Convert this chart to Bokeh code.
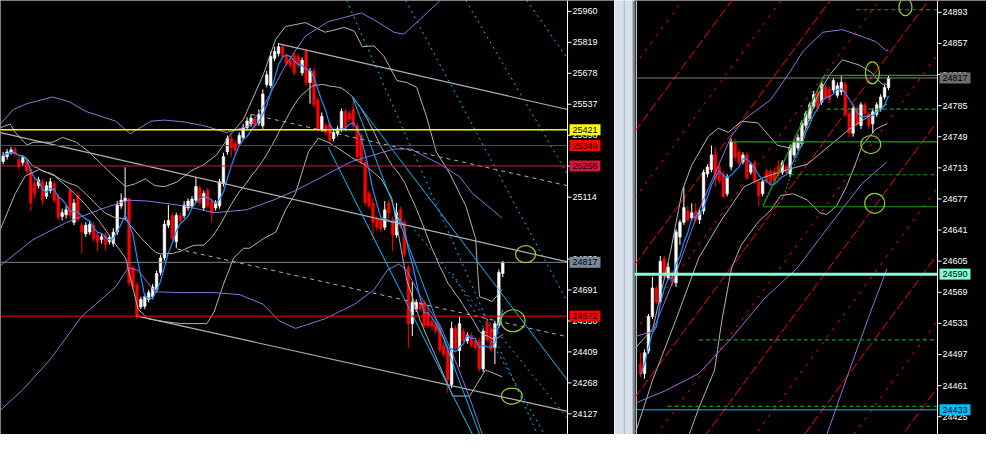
import pandas as pd
from bokeh.plotting import figure
from bokeh.models import Range1d
from bokeh.layouts import row
from bokeh.embed import file_html
from bokeh.resources import INLINE
from bokeh.core.properties import value

# ================= LEFT PANEL DATA =================
L_OPEN = [25276,25298,25316,25333,25285,25272,25276,25241,25175,25166,25184,25118,25144,25175,25118,25026,25034,25144,24999,25122,
          24986,24947,24955,24986,24942,24920,24942,24911,24903,24955,25074,25096,25105,24793,24714,24613,24617,24648,24661,24692,
          24771,24837,24986,25030,24911,25030,25030,25065,25074,25100,25153,25065,25144,25096,25065,25074,25175,25320,25381,25359,
          25359,25386,25430,25447,25469,25452,25439,25627,25623,25746,25768,25799,25755,25737,25759,25755,25680,25777,25636,25689,
          25557,25425,25439,25447,25381,25403,25425,25504,25496,25513,25439,25395,25272,25131,25087,25017,25008,24977,25087,25012,
          24942,25056,24999,24793,24538,24604,24635,24635,24591,24547,24538,24516,24437,24419,24261,24516,24415,24503,24459,24485,
          24459,24459,24332,24547,24516,24428,24529,24766]
L_HIGH = [25320,25333,25342,25342,25298,25302,25285,25254,25197,25206,25197,25184,25201,25188,25131,25061,25074,25157,25105,25140,
          24999,24999,25004,24999,24955,24947,24955,24942,24973,25096,25131,25250,25113,24806,24727,24661,24674,24692,24718,24780,
          24850,25008,25078,25043,25043,25043,25096,25109,25118,25206,25166,25144,25157,25109,25100,25197,25316,25395,25395,25373,
          25408,25447,25478,25491,25482,25513,25605,25689,25777,25799,25816,25812,25768,25755,25772,25768,25750,25790,25702,25702,
          25570,25500,25452,25461,25425,25439,25518,25518,25509,25570,25452,25408,25285,25144,25109,25030,25021,25096,25100,25026,
          25087,25070,25012,24806,24727,24648,24648,24648,24617,24560,24551,24534,24455,24437,24547,24529,24569,24516,24498,24498,
          24472,24472,24516,24560,24529,24551,24784,24824]
L_LOW = [25263,25285,25307,25298,25241,25258,25219,25052,25109,25153,25078,25105,25131,25087,25008,25008,25017,25017,24986,24999,
         24859,24933,24942,24911,24867,24903,24872,24898,24889,24942,25061,25008,24709,24692,24560,24604,24604,24635,24648,24679,
         24758,24824,24973,24911,24881,24990,25017,25052,25061,25087,25074,25052,25061,24999,25052,25061,25162,25307,25298,25307,
         25346,25373,25417,25434,25425,25439,25425,25614,25610,25733,25755,25742,25711,25702,25667,25702,25667,25623,25540,25522,
         25412,25412,25395,25359,25368,25390,25412,25412,25456,25425,25285,25263,25074,25061,24920,24964,24955,24964,24999,24867,
         24929,24973,24841,24428,24481,24591,24591,24516,24516,24507,24490,24406,24384,24222,24244,24415,24340,24446,24446,24428,
         24415,24318,24318,24450,24406,24353,24516,24749]
L_CLOSE = [25302,25320,25329,25311,25254,25294,25232,25087,25131,25193,25100,25166,25184,25100,25021,25043,25056,25030,25087,25012,
           24955,24986,24990,24925,24911,24933,24898,24929,24955,25078,25100,25109,24722,24705,24573,24648,24661,24679,24705,24766,
           24837,24990,25008,24925,25030,25008,25078,25096,25105,25162,25087,25131,25074,25043,25087,25184,25298,25381,25338,25329,
           25395,25430,25461,25474,25439,25491,25584,25671,25755,25777,25799,25755,25724,25715,25680,25715,25737,25636,25689,25535,
           25425,25482,25408,25373,25408,25425,25504,25425,25469,25439,25298,25276,25087,25074,24999,24977,24969,25056,25043,24942,
           25043,24986,24854,24538,24635,24635,24604,24529,24529,24525,24503,24419,24397,24283,24516,24428,24538,24459,24485,24441,
           24428,24332,24503,24463,24419,24538,24771,24817]

L_TICKS = [24127, 24268, 24409, 24550, 24691, 24832, 25114, 25255, 25396, 25537, 25678, 25819, 25960]

# bands (candle index, price)
L_GRAY_UP_I = [-0.7,1.8,3.1,6.1,7.6,12.6,15.1,18.6,21.8,24.3,27.6,31.1,33.6,36.1,38.6,41.1,44.3,47.6,51.1,54.3,57.6,61.1,63.6,66.1,
               69.3,71.8,76.8,81.8,86.8,89.3,91.3,94.3,96.8,100.1,102.6,105.1,107.6,110.1,113.6,117.6,120.1,120.6,121.1,124.3,126.8]
L_GRAY_UP_P = [25430,25447,25408,25351,25364,25364,25386,25364,25320,25276,25219,25162,25175,25197,25166,25162,25184,25232,25263,25307,
               25395,25469,25570,25671,25834,25891,25909,25865,25887,25869,25799,25803,25755,25645,25636,25614,25482,25320,25219,25074,
               24925,24780,24661,24639,24692]
L_GRAY_LO_I = [-0.7,3.1,5.6,9.3,13.1,16.8,20.6,24.3,28.1,31.1,34.3,36.8,41.1,45.1,51.8,53.6,56.1,58.6,61.1,62.6,66.1,69.3,71.8,74.3,
               77.6,80.1,82.6,85.1,88.6,91.8,96.1,98.8,100.6,102.6,106.1,111.1,114.3,118.6,122.6,126.8]
L_GRAY_LO_P = [24968,25131,25210,25241,25210,25153,25087,25008,24911,24837,24604,24560,24547,24538,24538,24591,24722,24837,24881,24881,
               24924,24955,25056,25131,25320,25382,25364,25337,25294,25263,25197,25109,24933,24736,24547,24340,24208,24208,24327,24296]
L_PURP_UP_I = [-0.7,2.6,6.1,12.6,16.8,21.1,28.6,32.3,37.6,41.1,46.1,51.1,56.8,62.6,66.1,71.8,76.8,82.6,91.1,95.1,99.3,101.8,105.1,
               111.1,116.8,126.8]
L_PURP_UP_P = [25447,25513,25540,25570,25548,25504,25460,25403,25460,25465,25456,25439,25408,25439,25526,25715,25847,25913,25953,25913,
               25865,25856,25909,26010,26141,26361]
L_PURP_MID_I = [-0.7,7.6,16.1,24.3,31.8,36.8,46.1,53.6,61.8,68.6,74.3,88.6,99.3,103.6,111.1,116.1,119.3,126.1,126.8]
L_PURP_MID_P = [24802,24920,24999,25056,25100,25096,25074,25043,25056,25100,25144,25276,25333,25333,25263,25206,25131,25030,25017]
L_PURP_LO_I = [-0.7,5.1,11.8,20.1,28.6,31.8,34.3,38.6,45.1,53.6,60.1,66.1,70.1,74.3,81.8,89.3,94.3,97.6,100.6,102.6,106.1,111.1,
               114.3,116.8,119.3,121.8,126.8]
L_PURP_LO_P = [24143,24239,24371,24573,24705,24793,24780,24683,24679,24679,24670,24626,24551,24516,24560,24626,24692,24780,24810,24780,
               24661,24529,24397,24283,24164,24033,23769]

# horizontal levels and axis boxes
L_LEVELS = [25421, 25349, 25256, 24817, 24572]
L_LEVEL_COLORS = ["#ffff00", "#ff0000", "#dc143c", "#778899", "#ff0000"]

# trend lines: (i0, p0, i1, p1)
L_GRAY_CHANNEL = [(70.1, 25812, 143.45, 25513), (-0.675, 25408, 143.45, 24819), (33.8, 24573, 143.45, 24138)]
L_GRAY_CHANNEL_MID = [(63.1, 25491, 143.45, 25166), (44.3, 24878, 143.45, 24478)]
L_CYAN_SOLID = [(88.8, 25570, 143.45, 24280), (88.8, 25570, 121.1, 24033), (82.6, 25342, 119.3, 24033)]
L_CYAN_DOTTED = [(87.3, 26010, 135.8, 24033), (102.3, 26010, 143.45, 24635), (117.6, 26010, 143.45, 25219),
                 (133.1, 26010, 143.45, 25746), (103.6, 24986, 143.45, 24107), (114.3, 24766, 137.6, 24033)]
L_CIRCLES_I = [132.8, 129.6, 129.3]
L_CIRCLES_P = [24854, 24551, 24208]

# ================= RIGHT PANEL DATA =================
R_OPEN = [24486,24475,24501,24541,24574,24558,24608,24586,24591,24580,24633,24650,24663,24655,24663,24653,24663,24706,24711,24728,
          24714,24706,24683,24714,24743,24731,24720,24728,24708,24719,24697,24683,24709,24709,24709,24715,24708,24715,24706,24728,
          24736,24741,24762,24770,24784,24801,24789,24806,24804,24803,24797,24801,24810,24776,24753,24782,24762,24786,24775,24764,
          24775,24782,24795,24806]
R_HIGH = [24499,24503,24544,24587,24577,24611,24611,24603,24594,24642,24653,24691,24669,24672,24672,24667,24711,24717,24739,24737,
          24717,24709,24706,24747,24747,24735,24731,24731,24720,24722,24700,24700,24712,24712,24713,24722,24722,24718,24740,24746,
          24752,24768,24779,24789,24802,24804,24813,24809,24807,24817,24812,24820,24813,24779,24785,24785,24789,24789,24778,24782,
          24789,24798,24809,24820]
R_LOW = [24471,24469,24498,24538,24555,24555,24583,24583,24575,24575,24624,24647,24650,24652,24650,24648,24659,24702,24708,24691,
         24695,24678,24680,24710,24721,24716,24717,24699,24705,24694,24669,24680,24695,24692,24694,24700,24705,24705,24702,24725,
         24733,24738,24758,24767,24781,24778,24786,24792,24788,24800,24794,24797,24772,24749,24749,24760,24758,24773,24758,24753,
         24772,24778,24792,24803]
R_CLOSE = [24474,24499,24541,24574,24558,24605,24586,24598,24581,24639,24650,24667,24653,24661,24653,24661,24708,24714,24728,24700,
           24698,24680,24702,24743,24725,24719,24728,24702,24717,24697,24681,24697,24698,24695,24698,24704,24719,24708,24737,24743,
           24748,24765,24776,24786,24798,24782,24810,24795,24792,24814,24808,24812,24775,24753,24782,24764,24786,24776,24762,24778,
           24786,24795,24806,24817]

R_TICKS = [24425, 24461, 24497, 24533, 24569, 24605, 24641, 24677, 24713, 24749, 24785, 24821, 24857, 24893]

R_PURP_UP_I = [-1.2,3.1,8.1,14.8,23.1,26.3,33.1,38.1,41.3,46.3,51.3,56.3,59.8,62.3,63.0]
R_PURP_UP_P = [24518,24524,24580,24664,24750,24769,24792,24825,24848,24870,24873,24865,24859,24849,24849]
R_PURP_MID_I = [-1.2,6.3,14.8,23.1,31.3,39.8,48.1,56.3,62.6]
R_PURP_MID_P = [24441,24455,24475,24516,24561,24597,24647,24695,24720]
R_PURP_LO_I = [45.1,47.3,53.1,58.1,62.6]
R_PURP_LO_P = [24371,24404,24479,24542,24596]
R_GRAY_UP_I = [-1.2,3.1,7.6,10.6,13.1,17.3,19.8,22.3,25.6,29.8,34.8,38.1,41.3,44.8,48.1,51.3,55.6,58.8,61.3,62.6]
R_GRAY_UP_P = [24505,24527,24616,24687,24717,24750,24759,24754,24767,24765,24739,24736,24750,24795,24821,24838,24832,24823,24810,24810]
R_GRAY_MID_I = [-1.2,3.1,8.8,14.8,20.6,26.3,31.3,37.3,42.3,48.1,53.1,58.1,62.6]
R_GRAY_MID_P = [24408,24468,24535,24609,24653,24691,24702,24711,24717,24739,24758,24773,24787]
R_GRAY_LO_I = [10.1,12.3,14.8,18.8,20.6,23.1,25.6,29.8,33.1,35.6,38.8,42.3,45.6,47.3,49.8,52.3,54.8,56.3,59.8,62.6]
R_GRAY_LO_P = [24371,24404,24435,24479,24535,24597,24624,24650,24664,24681,24683,24676,24661,24659,24669,24691,24720,24739,24758,24764]

# red dashed family: price at candle index 75, rising 6.16 per candle
R_RED_ANCHORS_DENSE = [24456, 24610, 24764, 24918, 25072, 25226, 25380]
R_RED_ANCHORS_SPARSE = [24533, 24687, 24841, 24995, 25149, 25303]
R_RED_SLOPE = 6.16
R_RED_REF_INDEX = 75

# green levels: (start index, price)
R_GREEN_SOLID = [(46.8, 24820), (23.1, 24743), (31.1, 24668)]
R_GREEN_DASHED = [(47.3, 24781), (38.1, 24705), (14.8, 24514), (6.8, 24437), (54.8, 24896)]
R_GREEN_DIAG = [(31.1, 24669, 46.8, 24821)]
R_GREEN_DIAG_DOTTED = [(36.0, 24676, 46.8, 24818)]
R_LEVELS = [24817, 24590, 24433]
R_LEVEL_COLORS = ["#808080", "#7fffd4", "#00bfff"]
R_BOX_COLORS = ["#6e6e6e", "#7fffd4", "#00bfff"]
R_CIRCLES_I = [67.3, 58.9, 58.5, 59.5]
R_CIRCLES_P = [24899, 24823, 24740, 24672]

# ================= LAYOUT =================
H = 434
W_L_FRAME, W_L_AXIS = 567, 47
W_SEP = 20
W_R_FRAME, W_R_AXIS = 303, 49
L_X = (-0.675, 143.45)
L_Y = (24032.8, 26009.6)
R_X = (-1.55, 75.45)
R_Y = (24404.4, 24906.7)

SILVER = "#b2b2b2"
PURPLE = "#9370db"
BLUE = "#1e90ff"
CYAN = "#00bfff"
GREEN = "#1a9a1a"
CIRCLE = "#9acd32"
FONT = "Liberation Sans"


def panel(frame_w, axis_w, xr, yr):
    upp = (xr[1] - xr[0]) / frame_w          # index units per pixel
    x_end = xr[1] + axis_w * upp
    p = figure(width=frame_w + axis_w, height=H, x_range=Range1d(xr[0], x_end), y_range=Range1d(*yr),
               output_backend="svg", toolbar_location=None, x_axis_location=None, y_axis_location=None,
               background_fill_color="black", border_fill_color="black",
               min_border_left=0, min_border_right=0, min_border_top=0, min_border_bottom=0,
               outline_line_color=None)
    p.grid.visible = False
    return p, upp


def price_axis(p, xa, upp, yr, ticks, levels, box_colors):
    n = len(ticks)
    p.segment(x0=[xa], y0=[yr[0]], x1=[xa], y1=[yr[1]], color="white", line_width=1)
    p.segment(x0=[xa] * n, y0=ticks, x1=[xa + 4 * upp] * n, y1=ticks, color="white", line_width=1)
    p.text(x=[xa + 5 * upp] * n, y=ticks, text=[str(t) for t in ticks], text_color="white",
           text_font=value(FONT), text_font_size=value("9px"), text_baseline="middle", text_align="left")
    m = len(levels)
    p.rect(x=[xa + 17.5 * upp] * m, y=levels, width=31, height=11, width_units="screen", height_units="screen",
           fill_color=box_colors, line_color=None)
    p.text(x=[xa + 5 * upp] * m, y=levels, text=[str(v) for v in levels], text_color="black",
           text_font=value(FONT), text_font_size=value("9px"), text_baseline="middle", text_align="left")


def candles(p, o, h, l, c):
    x = list(range(len(o)))
    col = ["white" if cc >= oo else "#ff0000" for oo, cc in zip(o, c)]
    top = [max(a, b) for a, b in zip(o, c)]
    bot = [min(a, b) for a, b in zip(o, c)]
    p.segment(x0=x, y0=l, x1=x, y1=h, color=col, line_width=1)
    p.vbar(x=x, width=0.65, top=top, bottom=bot, fill_color=col, line_color=col, line_width=0.6)


def hline(p, x0, x1, y, color, width=1.0, dash="solid"):
    p.line([x0, x1], [y, y], color=color, line_width=width, line_dash=dash)


# ---------------- left ----------------
pl, upl = panel(W_L_FRAME, W_L_AXIS, L_X, L_Y)
candles(pl, L_OPEN, L_HIGH, L_LOW, L_CLOSE)
lc = pd.Series(L_CLOSE)
lx = list(range(len(L_CLOSE)))
pl.line(L_GRAY_UP_I, L_GRAY_UP_P, color=SILVER, line_width=1)
pl.line(L_GRAY_LO_I, L_GRAY_LO_P, color=SILVER, line_width=1)
pl.line(lx, lc.rolling(20, min_periods=1).mean(), color=SILVER, line_width=1)
pl.line(L_PURP_UP_I, L_PURP_UP_P, color=PURPLE, line_width=1)
pl.line(L_PURP_MID_I, L_PURP_MID_P, color=PURPLE, line_width=1)
pl.line(L_PURP_LO_I, L_PURP_LO_P, color=PURPLE, line_width=1)
pl.line(lx, lc.rolling(5, min_periods=1).mean(), color=BLUE, line_width=1.2)
for (a, b, c, d) in L_GRAY_CHANNEL:
    pl.line([a, c], [b, d], color=SILVER, line_width=1.2)
for (a, b, c, d) in L_GRAY_CHANNEL_MID:
    pl.line([a, c], [b, d], color=SILVER, line_width=1, line_dash="4 4")
for (a, b, c, d) in L_CYAN_SOLID:
    pl.line([a, c], [b, d], color=CYAN, line_width=1)
for (a, b, c, d) in L_CYAN_DOTTED:
    pl.line([a, c], [b, d], color=CYAN, line_width=1, line_dash="2 4")
for lv, colr in zip(L_LEVELS, L_LEVEL_COLORS):
    hline(pl, L_X[0], L_X[1], lv, colr, 1.3 if colr == "#ffff00" else 1)
pl.ellipse(x=L_CIRCLES_I, y=L_CIRCLES_P, width=[20, 24, 21], height=[17, 22, 16],
           width_units="screen", height_units="screen", fill_color=None, line_color=CIRCLE, line_width=1.2)
price_axis(pl, L_X[1], upl, L_Y, L_TICKS, L_LEVELS, L_LEVEL_COLORS)

# ---------------- separator ----------------
ps = figure(width=W_SEP, height=H, x_range=Range1d(0, 20), y_range=Range1d(0, 1), output_backend="svg",
            toolbar_location=None, x_axis_location=None, y_axis_location=None,
            background_fill_color="#d6e0ec", border_fill_color="#d6e0ec", outline_line_color=None,
            min_border_left=0, min_border_right=0, min_border_top=0, min_border_bottom=0)
ps.grid.visible = False
ps.segment(x0=[9.8, 18.9], y0=[0, 0], x1=[9.8, 18.9], y1=[1, 1], color=["#a9b3bf", "#7b838c"], line_width=[1, 1.5])

# ---------------- right ----------------
pr, upr = panel(W_R_FRAME, W_R_AXIS, R_X, R_Y)
pr.segment(x0=[-1.1], y0=[R_Y[0]], x1=[-1.1], y1=[R_Y[1]], color="white", line_width=1)
for anc in R_RED_ANCHORS_DENSE:
    pr.line([R_X[0], R_X[1]], [anc + R_RED_SLOPE * (R_X[0] - R_RED_REF_INDEX), anc + R_RED_SLOPE * (R_X[1] - R_RED_REF_INDEX)],
            color="#ff0000", line_width=1, line_dash="10 3")
for anc in R_RED_ANCHORS_SPARSE:
    pr.line([R_X[0], R_X[1]], [anc + R_RED_SLOPE * (R_X[0] - R_RED_REF_INDEX), anc + R_RED_SLOPE * (R_X[1] - R_RED_REF_INDEX)],
            color="#ff0000", line_width=1, line_dash="3 6")
candles(pr, R_OPEN, R_HIGH, R_LOW, R_CLOSE)
rc = pd.Series(R_CLOSE)
rx = list(range(len(R_CLOSE)))
pr.line(R_GRAY_UP_I, R_GRAY_UP_P, color=SILVER, line_width=1)
pr.line(R_GRAY_MID_I, R_GRAY_MID_P, color=SILVER, line_width=1)
pr.line(R_GRAY_LO_I, R_GRAY_LO_P, color=SILVER, line_width=1)
pr.line(R_PURP_UP_I, R_PURP_UP_P, color=PURPLE, line_width=1)
pr.line(R_PURP_MID_I, R_PURP_MID_P, color=PURPLE, line_width=1)
pr.line(R_PURP_LO_I, R_PURP_LO_P, color=PURPLE, line_width=1)
pr.line(rx, rc.rolling(5, min_periods=1).mean(), color=BLUE, line_width=1.2)
for (s, lv) in R_GREEN_SOLID:
    hline(pr, s, R_X[1], lv, GREEN, 1.2)
for (s, lv) in R_GREEN_DASHED:
    hline(pr, s, R_X[1], lv, GREEN, 1.2, "4 3")
for (a, b, c, d) in R_GREEN_DIAG:
    pr.line([a, c], [b, d], color=GREEN, line_width=1.2)
for (a, b, c, d) in R_GREEN_DIAG_DOTTED:
    pr.line([a, c], [b, d], color=GREEN, line_width=1, line_dash="2 2")
hline(pr, R_X[0], R_X[1], R_LEVELS[0], R_LEVEL_COLORS[0], 1)
hline(pr, R_X[0], R_X[1], R_LEVELS[1], R_LEVEL_COLORS[1], 3)
hline(pr, R_X[0], R_X[1], R_LEVELS[2], R_LEVEL_COLORS[2], 1)
pr.ellipse(x=R_CIRCLES_I, y=R_CIRCLES_P, width=[13, 14, 20, 20], height=[17, 22, 18, 20],
           width_units="screen", height_units="screen", fill_color=None, line_color=CIRCLE, line_width=1.2)
price_axis(pr, R_X[1], upr, R_Y, R_TICKS, R_LEVELS, R_BOX_COLORS)

layout = row(pl, ps, pr, spacing=0)
open("out.html", "w").write(file_html(layout, INLINE))
